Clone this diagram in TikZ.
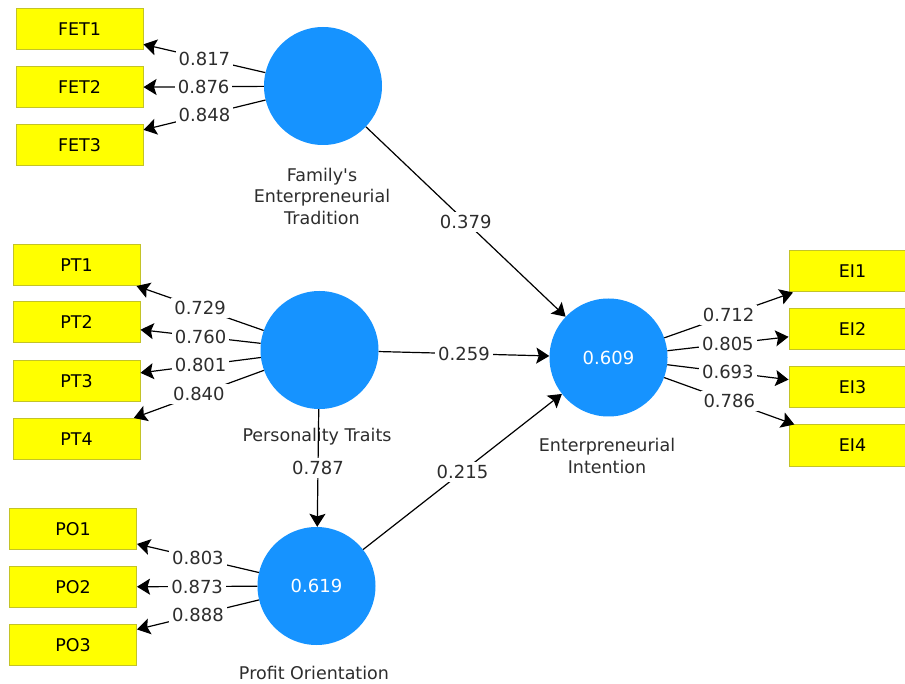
\documentclass[tikz,border=0pt]{standalone}
\usepackage{fontspec}
\setmainfont{DejaVu Sans}
\usetikzlibrary{arrows.meta}
\definecolor{lvblue}{RGB}{22,147,255}
\definecolor{mvfill}{RGB}{255,255,0}
\definecolor{mvborder}{RGB}{195,195,40}
\definecolor{txtgrey}{RGB}{45,45,45}
\begin{document}
\begin{tikzpicture}[x=1pt,y=-1pt,
  mv/.style={draw=mvborder, fill=mvfill, line width=1pt, minimum width=127pt,
    minimum height=41pt, inner sep=0pt, text=black, font=\fontsize{17.5}{21}\selectfont},
  lv/.style={circle, fill=lvblue, minimum size=118pt, inner sep=0pt, text=white,
    font=\fontsize{18}{21}\selectfont},
  lvlabel/.style={align=center, text=txtgrey, inner sep=0pt, font=\fontsize{17.5}{21.5}\selectfont},
  pathline/.style={draw=black, line width=1.2pt, -{Stealth[length=13pt,width=16pt,inset=2.5pt]}},
  coef/.style={fill=white, inner sep=3pt, text=txtgrey, font=\fontsize{18}{21}\selectfont}]
\clip (0,0) rectangle (905,684);
\fill[white] (0,0) rectangle (905,684);

% latent variables
\node[lv] (fet) at (323,86) {};
\node[lv] (pt) at (319.5,350) {};
\node[lv] (po) at (316.5,586) {0.619};
\node[lv] (ei) at (608.5,357.5) {0.609};

% labels
\node[lvlabel] (fetl) at (322,196) {Family\textquotesingle s\\Enterpreneurial\\Tradition};
\node[lvlabel] (ptl) at (317,437) {Personality Traits};
\node[lvlabel] (pol) at (314,673) {Profit Orientation};
\node[lvlabel] (eil) at (607,456) {Enterpreneurial\\Intention};

% indicators
\node[mv] (fet1) at (79.5,29.5) {FET1};
\node[mv] (fet2) at (79.5,87.5) {FET2};
\node[mv] (fet3) at (79.5,145.5) {FET3};
\node[mv] (pt1) at (76.5,265) {PT1};
\node[mv] (pt2) at (76.5,322.5) {PT2};
\node[mv] (pt3) at (76.5,381) {PT3};
\node[mv] (pt4) at (76.5,439) {PT4};
\node[mv] (po1) at (73,529) {PO1};
\node[mv] (po2) at (73,587) {PO2};
\node[mv] (po3) at (73,645) {PO3};
\node[mv] (ei1) at (852.5,271.5) {EI1};
\node[mv] (ei2) at (852.5,329.5) {EI2};
\node[mv] (ei3) at (852.5,387.5) {EI3};
\node[mv] (ei4) at (852.5,445.5) {EI4};

% outer loadings
\draw[pathline] (fet) -- node[coef] {0.817} (fet1);
\draw[pathline] (fet) -- node[coef] {0.876} (fet2);
\draw[pathline] (fet) -- node[coef] {0.848} (fet3);
\draw[pathline] (pt) -- node[coef] {0.729} (pt1);
\draw[pathline] (pt) -- node[coef] {0.760} (pt2);
\draw[pathline] (pt) -- node[coef] {0.801} (pt3);
\draw[pathline] (pt) -- node[coef] {0.840} (pt4);
\draw[pathline] (po) -- node[coef] {0.803} (po1);
\draw[pathline] (po) -- node[coef] {0.873} (po2);
\draw[pathline] (po) -- node[coef] {0.888} (po3);
\draw[pathline] (ei) -- node[coef] {0.712} (ei1);
\draw[pathline] (ei) -- node[coef] {0.805} (ei2);
\draw[pathline] (ei) -- node[coef] {0.693} (ei3);
\draw[pathline] (ei) -- node[coef] {0.786} (ei4);

% structural paths
\draw[pathline] (fet) -- node[coef] {0.379} (ei);
\draw[pathline] (pt) -- node[coef] {0.259} (ei);
\draw[pathline] (po) -- node[coef] {0.215} (ei);
\draw[pathline] (pt) -- node[coef] {0.787} (po);
\end{tikzpicture}
\end{document}
